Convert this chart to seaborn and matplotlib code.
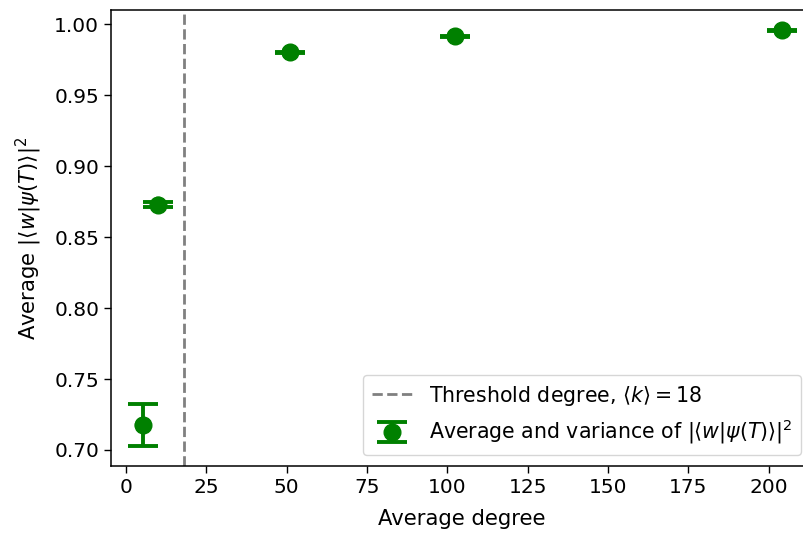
import matplotlib
matplotlib.use("Agg")
import matplotlib.pyplot as plt
import seaborn as sns
import pandas as pd

# Data
degrees = [5.3, 10.0, 51.0, 102.4, 204.1]
avg_overlap = [0.7176, 0.8727, 0.9802, 0.9915, 0.9957]
variance = [0.0145, 0.0018, 0.0005, 0.0005, 0.0005]
threshold = 18

df = pd.DataFrame({"degree": degrees, "overlap": avg_overlap, "err": variance})

sns.set_style("ticks")
plt.rcParams["font.family"] = ["DejaVu Sans"]
plt.rcParams["mathtext.fontset"] = "dejavusans"
for k in ["text.color", "axes.labelcolor", "xtick.color", "ytick.color", "axes.edgecolor"]:
    plt.rcParams[k] = "black"

fig = plt.figure(figsize=(8.04, 5.34), dpi=100)
W, H = 804, 534
ax = fig.add_axes([111 / W, (H - 466) / H, (812 - 111) / W, (466 - 10) / H])

ax.axvline(threshold, color="gray", linestyle="--", linewidth=2,
           label=r"Threshold degree, $\langle k\rangle = 18$")
ax.errorbar(df["degree"], df["overlap"], yerr=df["err"], fmt="o", color="green",
            markersize=12, elinewidth=2.8, capsize=11, capthick=2.8,
            label=r"Average and variance of $|\langle w|\psi(T)\rangle|^2$")
sns.scatterplot(data=df, x="degree", y="overlap", ax=ax, color="green",
                s=144, edgecolor="none", legend=False, zorder=3)

ax.set_xlim(-4.67, 213.5)
ax.set_ylim(0.6887, 1.0101)
ax.set_xticks([0, 25, 50, 75, 100, 125, 150, 175, 200])
ax.set_yticks([0.70, 0.75, 0.80, 0.85, 0.90, 0.95, 1.00])
ax.set_yticklabels(["0.70", "0.75", "0.80", "0.85", "0.90", "0.95", "1.00"])
ax.tick_params(labelsize=14.5, length=5, width=1, color="black", labelcolor="black")
for s in ax.spines.values():
    s.set_color("black")
    s.set_linewidth(1.1)

ax.set_xlabel("Average degree", fontsize=15.2, labelpad=9)
ax.set_ylabel(r"Average $|\langle w|\psi(T)\rangle|^2$", fontsize=15.2, labelpad=7)

ax.legend(loc="lower right", fontsize=14.8, frameon=True, borderaxespad=0.55)

fig.savefig("out.png", dpi=100)
